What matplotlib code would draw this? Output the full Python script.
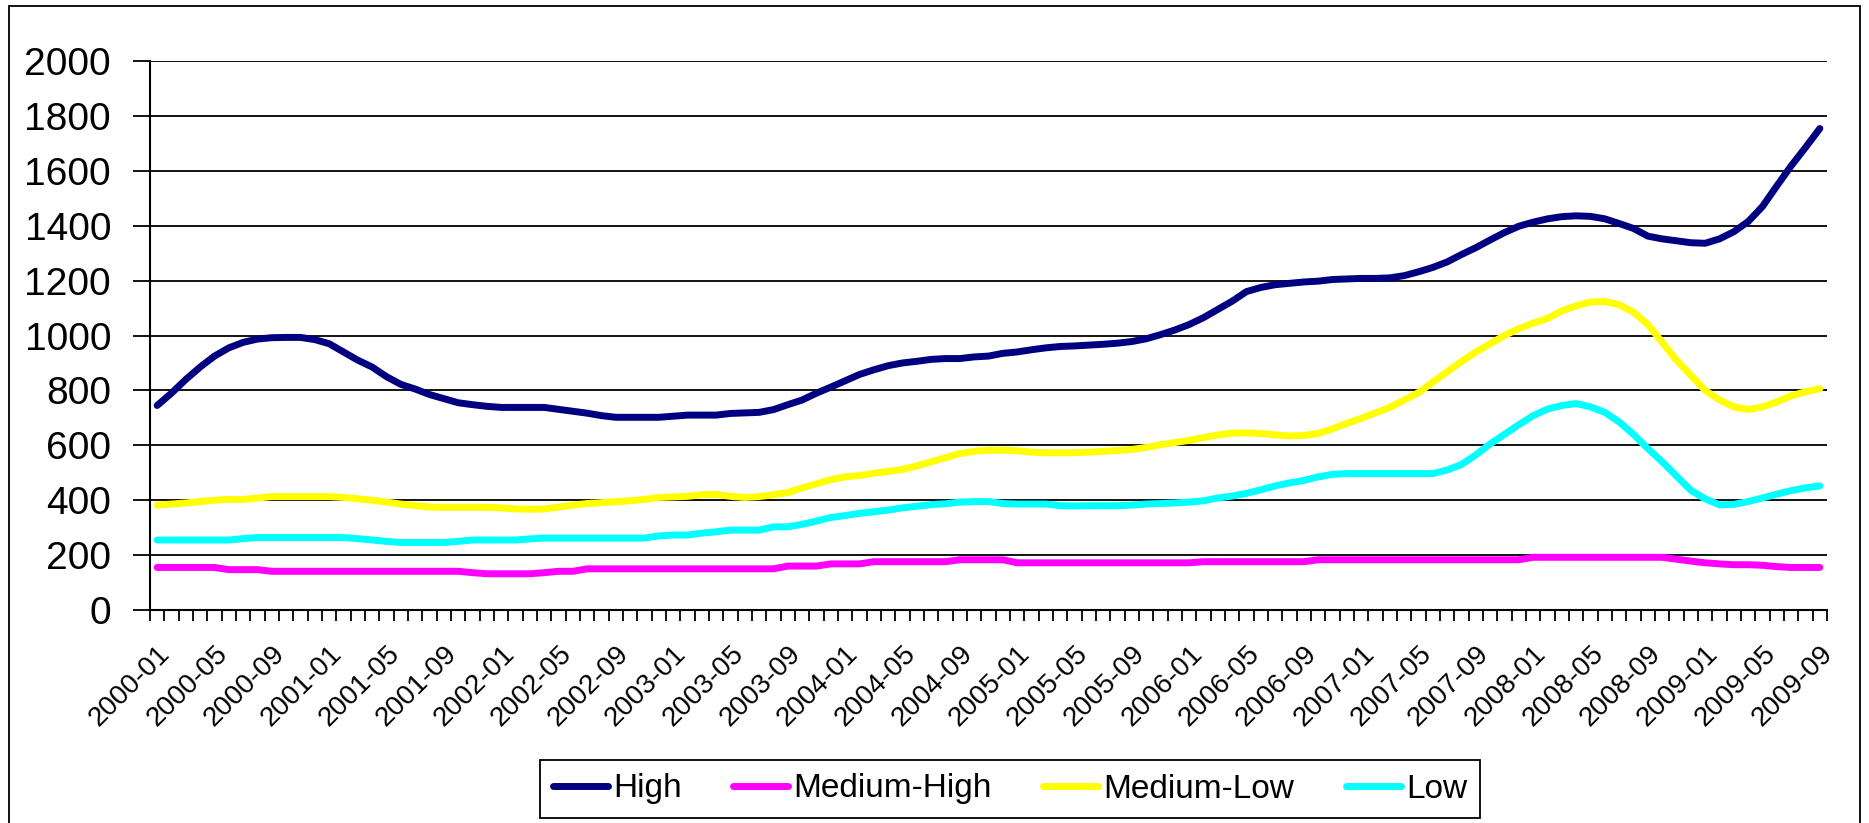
import numpy as np
import matplotlib
matplotlib.use('Agg')
import matplotlib.pyplot as plt
from matplotlib.patches import Rectangle

plt.rcParams['font.family'] = ['Liberation Sans', 'DejaVu Sans']

# monthly categories, 2000-01 .. 2009-09
months = [f"{2000 + k // 12}-{k % 12 + 1:02d}" for k in range(117)]

high = [745, 790, 840, 885, 925, 955, 975, 987, 992, 993,
        993, 985, 970, 940, 910, 885, 850, 822, 805, 785,
        770, 755, 748, 742, 738, 738, 738, 738, 731, 724,
        717, 708, 702, 702, 702, 702, 706, 710, 710, 710,
        716, 718, 720, 730, 748, 765, 790, 812, 835, 858,
        875, 890, 900, 906, 913, 916, 916, 922, 925, 935,
        940, 948, 955, 960, 962, 965, 968, 972, 978, 988,
        1003, 1020, 1040, 1065, 1095, 1125, 1160, 1175, 1185, 1190,
        1195, 1198, 1204, 1206, 1208, 1208, 1210, 1218, 1232, 1248,
        1268, 1295, 1320, 1348, 1375, 1398, 1413, 1425, 1433, 1436,
        1434, 1425, 1408, 1390, 1362, 1352, 1345, 1338, 1336, 1352,
        1378, 1415, 1470, 1545, 1618, 1685, 1754]

medium_high = [155, 155, 155, 155, 155, 147, 147, 147, 141, 141,
               141, 141, 141, 141, 141, 141, 141, 141, 141, 141,
               141, 141, 136, 132, 132, 132, 132, 136, 141, 141,
               150, 150, 150, 150, 150, 150, 150, 150, 150, 150,
               150, 150, 150, 150, 160, 160, 160, 168, 168, 168,
               176, 176, 176, 176, 176, 176, 183, 183, 183, 183,
               172, 172, 172, 172, 172, 172, 172, 172, 172, 172,
               172, 172, 172, 176, 176, 176, 176, 176, 176, 176,
               176, 183, 183, 183, 183, 183, 183, 183, 183, 183,
               183, 183, 183, 183, 183, 183, 192, 192, 192, 192,
               192, 192, 192, 192, 192, 192, 185, 178, 172, 168,
               165, 165, 163, 158, 155, 155, 155]

medium_low = [382, 386, 390, 395, 400, 403, 403, 408, 413, 413,
              413, 413, 413, 410, 405, 400, 393, 386, 380, 375,
              374, 374, 374, 374, 372, 368, 367, 368, 375, 382,
              388, 391, 395, 398, 403, 410, 412, 414, 420, 421,
              414, 410, 413, 420, 428, 445, 460, 475, 485, 490,
              498, 505, 512, 525, 540, 555, 570, 578, 582, 582,
              580, 575, 573, 573, 573, 575, 578, 581, 585, 592,
              602, 610, 618, 628, 638, 644, 645, 643, 638, 634,
              636, 643, 660, 680, 698, 718, 738, 765, 792, 830,
              868, 905, 940, 970, 1000, 1025, 1045, 1062, 1090, 1108,
              1122, 1124, 1112, 1085, 1040, 975, 910, 855, 800, 765,
              740, 730, 740, 758, 780, 795, 806]

low = [255, 255, 255, 255, 255, 255, 260, 264, 264, 264,
       264, 264, 264, 264, 260, 255, 250, 246, 246, 246,
       246, 250, 255, 255, 255, 255, 259, 262, 262, 262,
       262, 262, 262, 262, 262, 270, 273, 273, 280, 285,
       291, 291, 291, 303, 303, 312, 324, 337, 344, 352,
       358, 364, 372, 378, 384, 387, 393, 395, 395, 388,
       386, 386, 386, 380, 379, 380, 380, 380, 382, 386,
       388, 390, 393, 398, 408, 415, 425, 438, 452, 463,
       472, 485, 494, 497, 497, 497, 497, 497, 497, 497,
       510, 530, 565, 605, 640, 675, 708, 732, 745, 752,
       740, 720, 685, 640, 588, 540, 488, 436, 405, 383,
       385, 395, 408, 422, 435, 445, 452]

series = [("High", high, "#000080"),
          ("Medium-High", medium_high, "#FF00FF"),
          ("Medium-Low", medium_low, "#FFFF00"),
          ("Low", low, "#00FFFF")]

W, H = 1869, 823
fig = plt.figure(figsize=(W / 100, H / 100), dpi=100)
ax = fig.add_axes([150 / W, 1 - 610 / H, (1827 - 150) / W, (610 - 61) / H])

x = np.arange(len(months))
for name, vals, col in series:
    ax.plot(x, vals, color=col, lw=5, label=name,
            solid_capstyle='round', solid_joinstyle='round')

ax.set_xlim(-0.5, len(months) - 0.5)
ax.set_ylim(0, 2000)
ax.set_yticks(np.arange(0, 2001, 200))
ax.yaxis.grid(True, color='black', lw=1.3)
ax.set_axisbelow(True)

# labels every 4 months, tick marks between categories
ax.set_xticks(x[::4])
ax.set_xticklabels(months[::4], rotation=45, ha='right', va='top',
                   rotation_mode='anchor', fontsize=20)
ax.set_xticks(np.arange(-0.5, len(months)), minor=True)
ax.tick_params(axis='x', which='major', length=0, pad=22)
ax.tick_params(axis='x', which='minor', length=8, width=1.3, direction='out')
ax.tick_params(axis='y', length=12, width=1.3, pad=16, labelsize=28)

for s in ['top', 'right']:
    ax.spines[s].set_visible(False)
for s in ['left', 'bottom']:
    ax.spines[s].set_linewidth(1.5)

# outer chart frame
fig.patches.append(Rectangle((9 / W, -0.01), (1860 - 9) / W, 1.01 - 6 / H,
                             transform=fig.transFigure, fill=False,
                             edgecolor='black', lw=1.3))

leg = fig.legend(loc='center', bbox_to_anchor=(1010 / W, 1 - 789 / H), ncol=4,
                 fontsize=24, frameon=True, fancybox=False, edgecolor='black',
                 framealpha=1, handlelength=1.65, handletextpad=0.15,
                 columnspacing=1.55, borderpad=0.4)
leg.get_frame().set_linewidth(1.3)

fig.savefig('out.png', dpi=100)
